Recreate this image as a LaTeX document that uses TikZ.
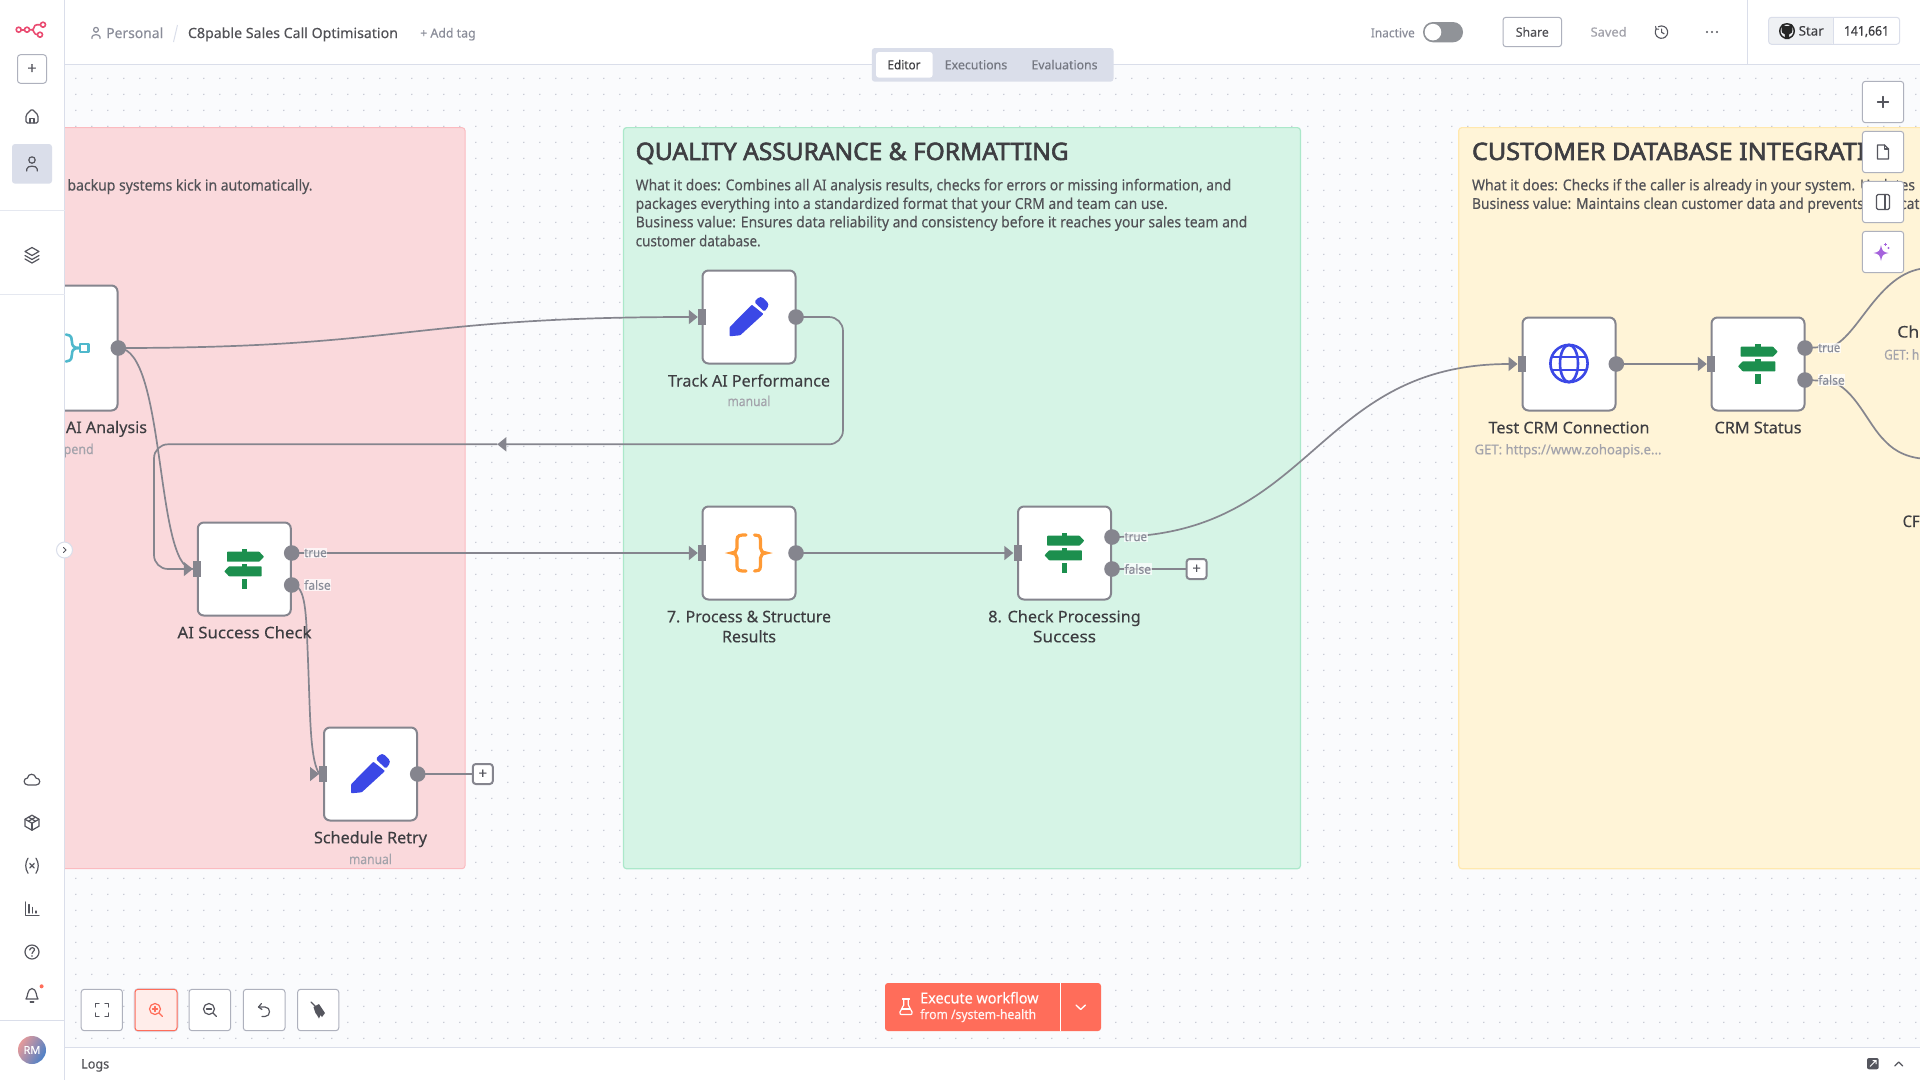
\documentclass[tikz,border=0pt]{standalone}
\usepackage{fontspec}
\setmainfont[FakeBold=0.25]{Noto Sans}
\newfontfamily\titlefont[FakeBold=2.4]{Noto Sans}
\newfontfamily\medfont[FakeBold=0.8]{Noto Sans}
\usetikzlibrary{arrows.meta,shapes.geometric,patterns}
\pgfdeclarepatternformonly{dotgrid}{\pgfqpoint{0pt}{0pt}}{\pgfqpoint{15.84pt}{15.84pt}}{\pgfqpoint{15.84pt}{15.84pt}}{\pgfpathcircle{\pgfqpoint{12.94pt}{10.78pt}}{0.8pt}\pgfusepath{fill}}
\definecolor{canvas}{HTML}{FAFBFD}
\definecolor{dotc}{HTML}{C6C9D4}
\definecolor{linec}{HTML}{DADEEA}
\definecolor{redfill}{HTML}{FAD9DC}
\definecolor{redline}{HTML}{FBBBC0}
\definecolor{greenfill}{HTML}{D6F4E6}
\definecolor{greenline}{HTML}{ABE8CA}
\definecolor{yellowfill}{HTML}{FFF4D7}
\definecolor{yellowline}{HTML}{FFE8AE}
\definecolor{wire}{HTML}{85858E}
\definecolor{titlec}{HTML}{3E3E42}
\definecolor{bodyc}{HTML}{525257}
\definecolor{subc}{HTML}{A3A3AB}
\definecolor{graytxt}{HTML}{8A8D99}
\definecolor{iconc}{HTML}{55565E}
\definecolor{btnline}{HTML}{AEB1BD}
\definecolor{pencil}{HTML}{3B48E6}
\definecolor{signc}{HTML}{1C8F4E}
\definecolor{bracec}{HTML}{FF9A35}
\definecolor{tealc}{HTML}{4FB8CC}
\definecolor{logoc}{HTML}{EA4B71}
\definecolor{orangebtn}{HTML}{FF6D5A}
\definecolor{purplec}{HTML}{A563DC}
\definecolor{avleft}{HTML}{E59A9A}
\definecolor{avright}{HTML}{4A80C8}
\definecolor{togglec}{HTML}{909398}
\definecolor{starbg}{HTML}{EFF1F4}
\definecolor{zoomfill}{HTML}{FFEDEA}
\newcommand\fw[2]{\resizebox{#1pt}{\height}{#2}}
\pgfdeclarelayer{panels}
\pgfdeclarelayer{wires}
\pgfsetlayers{panels,wires,main}
\tikzset{
  fs/.style={font=\fontsize{#1}{#1}\selectfont},
  txt/.style={inner sep=0pt,anchor=base,text=bodyc,fs=#1},
  txtw/.style={inner sep=0pt,anchor=base west,text=bodyc,fs=#1},
  nlabel/.style={txt=16,text=titlec},
  stitle/.style={inner sep=0pt,anchor=base west,text=titlec,font=\fontsize{24}{24}\selectfont\titlefont},
  box/.style={draw=wire,line width=2pt,fill=white,rounded corners=6pt,minimum width=93pt,minimum height=93pt,inner sep=0pt},
  outdot/.style={circle,fill=wire,minimum size=15.6pt,inner sep=0pt},
  indot/.style={rectangle,fill=wire,minimum width=8pt,minimum height=16pt,inner sep=0pt},
  wireline/.style={draw=wire,line width=1.7pt},
  arr/.style={-{Triangle[length=9pt,width=14pt]}},
  lab/.style={inner xsep=0.6pt,inner ysep=0.8pt,anchor=west,fill=white,fill opacity=.72,text opacity=1,text=graytxt,fs=12.5},
  plusbox/.style={draw=wire,line width=2pt,fill=white,rounded corners=3pt,minimum size=20pt,inner sep=0pt,text=iconc,fs=15},
  ibtn/.style={draw=btnline,line width=1pt,fill=white,rounded corners=3pt},
  ico/.style={draw=iconc,line width=1.2pt,line cap=round,line join=round},
}
\newcommand\ipencil[2]{\begin{scope}[shift={(#1,#2)}]
\fill[pencil,rounded corners=.8pt] (-19.5,10.3)--(2.8,-12.3)--(14.5,-3)--(-8.8,18.3)--(-19.5,19.3)--cycle;
\fill[pencil,rounded corners=1.5pt] (5.2,-15)--(10.2,-20)--(13,-20)--(19.2,-14)--(19.5,-11)--(15.5,-5.3)--cycle;
\end{scope}}
\newcommand\isign[2]{\begin{scope}[shift={(#1,#2)}]
\fill[signc,rounded corners=.6pt] (-17.3,-17.3)--(15,-17.3)--(19.7,-12.3)--(15,-7.3)--(-17.3,-7.3)--cycle;
\fill[signc,rounded corners=.6pt] (-20,2.3)--(-15.3,-2.7)--(17.3,-2.7)--(17.3,7.3)--(-15.3,7.3)--cycle;
\fill[signc] (-2.7,-20) rectangle (2.7,-17);
\fill[signc] (-2.7,-5) rectangle (2.7,-2.5);
\fill[signc] (-2.7,10) rectangle (2.7,20);
\end{scope}}
\begin{document}
\begin{tikzpicture}[x=1pt,y=-1pt]
\useasboundingbox (0,0) rectangle (1920,1080);
\clip (0,0) rectangle (1920,1080);
\begin{pgfonlayer}{panels}
\fill[canvas] (0,0) rectangle (1920,1080);
\fill[pattern=dotgrid,pattern color=dotc] (60,64) rectangle (1920,1047);
\draw[fill=redfill,draw=redline,line width=1pt,rounded corners=3pt] (40,127.6) rectangle (465,868.7);
\draw[fill=greenfill,draw=greenline,line width=1.2pt,rounded corners=3pt] (623.5,127.6) rectangle (1300.4,868.7);
\draw[fill=yellowfill,draw=yellowline,line width=1.2pt,rounded corners=3pt] (1458.8,127.6) rectangle (1960,868.7);
\node[txtw=15] (redbody) at (67.3,190.5) {\fw{245}{backup systems kick in automatically.}};
\node[stitle] (greentitle) at (635.5,160) {\fw{433}{QUALITY ASSURANCE \& FORMATTING}};
\node[txtw=15] (g1) at (635.5,190.3) {\fw{595.5}{What it does: Combines all AI analysis results, checks for errors or missing information, and}};
\node[txtw=15] (g2) at (635.5,208.9) {\fw{532}{packages everything into a standardized format that your CRM and team can use.}};
\node[txtw=15] (g3) at (635.5,227.3) {\fw{611.5}{Business value: Ensures data reliability and consistency before it reaches your sales team and}};
\node[txtw=15] (g4) at (635.5,246.3) {\fw{125}{customer database.}};
\node[stitle] (yellowtitle) at (1471.8,160) {\fw{413}{CUSTOMER DATABASE INTEGRATIO}};
\node[txtw=15] (y1) at (1471.8,190.3) {\fw{443}{What it does: Checks if the caller is already in your system. Updates}};
\node[txtw=15] (y2) at (1471.8,208.9) {\fw{447.5}{Business value: Maintains clean customer data and prevents duplicat}};
\end{pgfonlayer}

% nodes
\node[box,minimum width=125pt,minimum height=125pt] (merge) at (55,348) {};
\node[outdot] (mergeout) at (118.3,348) {};
\node[box] (track) at (749,317) {};
\node[indot] (trackin) at (702,317) {};
\node[outdot] (trackout) at (796,317) {};
\node[box] (success) at (244.3,569) {};
\node[indot] (successin) at (197,569) {};
\node[outdot] (succtrue) at (291.7,553) {};
\node[outdot] (succfalse) at (291.7,585) {};
\node[box] (retry) at (370.5,774) {};
\node[indot] (retryin) at (323.2,774) {};
\node[outdot] (retryout) at (417.7,774) {};
\node[plusbox] (retryplus) at (482.8,774) {+};
\node[box] (process) at (749,553) {};
\node[indot] (processin) at (702,553) {};
\node[outdot] (processout) at (796,553) {};
\node[box] (check) at (1064.5,553) {};
\node[indot] (checkin) at (1017.5,553) {};
\node[outdot] (checktrue) at (1112,537) {};
\node[outdot] (checkfalse) at (1112,569) {};
\node[plusbox] (checkplus) at (1196.6,569) {+};
\node[box] (test) at (1569,364) {};
\node[indot] (testin) at (1521.7,364) {};
\node[outdot] (testout) at (1616.3,364) {};
\node[box] (crm) at (1758,364) {};
\node[indot] (crmin) at (1711,364) {};
\node[outdot] (crmtrue) at (1805,348) {};
\node[outdot] (crmfalse) at (1805,380) {};
\coordinate (looparrow) at (497.3,444.3);
\coordinate (crmtrueend) at (1930,268);
\coordinate (crmfalseend) at (1930,459);

\begin{pgfonlayer}{wires}
\draw[wireline,arr] (mergeout.center) .. controls (406,348) and (406,317) .. (trackin.west);
\draw[wireline] (mergeout.center) .. controls (166,348) and (155,569) .. (successin.west);
\draw[wireline,arr,rounded corners=14pt] (trackout.center) -- (843,317) -- (843,444.3) -- (looparrow);
\draw[wireline,arr,rounded corners=14pt] (looparrow) -- (154,444.3) -- (154,569) -- (successin.west);
\draw[wireline,arr] (succtrue.center) -- (processin.west);
\draw[wireline,arr] (processout.center) -- (checkin.west);
\draw[wireline] (succfalse.center) .. controls (306,585) and (306,612) .. (308,660) .. controls (310,710) and (310,750) .. (316.5,768) -- (retryin.west);
\draw[wireline,arr] ([xshift=-8pt]retryin.west) -- (retryin.west);
\draw[wireline] (retryout.center) -- (retryplus.west);
\draw[wireline,arr] (checktrue.center) .. controls (1314,537) and (1314,364) .. (testin.west);
\draw[wireline] (checkfalse.center) -- (checkplus.west);
\draw[wireline,arr] (testout.center) -- (crmin.west);
\draw[wireline] (crmtrue.center) -- (1832,346.5) .. controls (1860,335) and (1880,268) .. (crmtrueend);
\draw[wireline] (crmfalse.center) -- (1830,381) .. controls (1855,388) and (1868,425) .. (1885,441) .. controls (1895,452) and (1910,459) .. (crmfalseend);
\end{pgfonlayer}

% edge labels
\node[lab] (ltrue1) at (303.4,553) {\fw{22.5}{true}};
\node[lab] (lfalse1) at (303.4,585) {\fw{26.5}{false}};
\node[lab] (ltrue2) at (1123.7,537) {\fw{22.5}{true}};
\node[lab] (lfalse2) at (1123.7,569) {\fw{26.5}{false}};
\node[lab] (ltrue3) at (1817.4,348) {\fw{22}{true}};
\node[lab] (lfalse3) at (1817.4,380) {\fw{26.5}{false}};

% node labels
\node[nlabel] (tmerge) at (106.5,433) {\fw{81}{AI Analysis}};
\node[txtw=13.5,text=subc] (smerge) at (63.5,454) {\fw{30}{pend}};
\node[nlabel] (ttrack) at (749,386.5) {\fw{162}{Track AI Performance}};
\node[txt=13.5,text=subc] (strack) at (749,406) {\fw{43}{manual}};
\node[nlabel] (tsuccess) at (244.5,638.3) {\fw{134}{AI Success Check}};
\node[nlabel] (tretry) at (370.5,843.3) {\fw{113}{Schedule Retry}};
\node[txt=13.5,text=subc] (sretry) at (370.5,864) {\fw{43}{manual}};
\node[nlabel] (tproc1) at (749,622.3) {\fw{164}{7. Process \& Structure}};
\node[nlabel] (tproc2) at (749,642.3) {\fw{54}{Results}};
\node[nlabel] (tcheck1) at (1064.5,622.3) {\fw{152.5}{8. Check Processing}};
\node[nlabel] (tcheck2) at (1064.5,642.3) {\fw{63}{Success}};
\node[nlabel] (ttest) at (1569,433.3) {\fw{161}{Test CRM Connection}};
\node[txt=13.5,text=subc] (stest) at (1568,454.3) {\fw{187}{GET: https://www.zohoapis.e...}};
\node[nlabel] (tcrm) at (1758,433.3) {\fw{87}{CRM Status}};
\node[txtw=16,text=titlec] (tch) at (1897,337.5) {\fw{22}{Ch}};
\node[txtw=13.5,text=subc] (sget) at (1884,359.5) {\fw{35}{GET: h}};
\node[txtw=16,text=titlec] (tcp) at (1902.5,527) {\fw{17}{CF}};

% icons in nodes
\ipencil{749}{317}
\ipencil{370.5}{774}
\isign{244.3}{569}
\isign{1064.5}{553}
\isign{1758}{364}
\begin{scope}[shift={(749,553)},bracec,line width=3.2pt,line cap=round]
\draw (-3,-18) .. controls (-9,-18) and (-12,-18) .. (-12,-13) -- (-12,-5) .. controls (-12,-2) and (-14,-.5) .. (-17.5,0) .. controls (-14,.5) and (-12,2) .. (-12,5) -- (-12,13) .. controls (-12,18) and (-9,18) .. (-3,18);
\draw (5.5,-18) .. controls (8,-18) and (11.5,-18) .. (11.5,-13) -- (11.5,-5) .. controls (11.5,-2) and (13.5,-.5) .. (17,0) .. controls (13.5,.5) and (11.5,2) .. (11.5,5) -- (11.5,13) .. controls (11.5,18) and (8,18) .. (5.5,18);
\end{scope}
\begin{scope}[shift={(1569,363.5)},pencil,line width=2.6pt]
\draw (0,0) circle (18.6);
\draw (0,0) ellipse (9 and 18.6);
\draw (-17,-6.5) -- (17,-6.5);
\draw (-17,6.5) -- (17,6.5);
\end{scope}
\begin{scope}[tealc,line width=2.6pt,line cap=round,line join=round]
\draw (66,334.5) .. controls (72,335) and (72,339) .. (72,342) .. controls (72,345) and (73,348) .. (79,348);
\draw (66,361.5) .. controls (72,361) and (72,357) .. (72,354) .. controls (72,351) and (73,348) .. (79,348);
\draw (80,344) rectangle (88.5,352);
\end{scope}

% chrome: sidebar, header, logs
\fill[white] (0,0) rectangle (64.5,1080);
\fill[white] (64.5,0) rectangle (1920,64.5);
\fill[white] (64.5,1047) rectangle (1920,1080);
\draw[linec,line width=1pt] (64.5,0) -- (64.5,1080);
\draw[linec,line width=1pt] (64.5,64.5) -- (1920,64.5);
\draw[linec,line width=1pt] (64.5,1047) -- (1920,1047);
\draw[linec,line width=1pt] (1747,0) -- (1747,64.5);
\draw[linec!70,line width=1pt] (0,210.7) -- (64.5,210.7);
\draw[linec!70,line width=1pt] (0,294.3) -- (64.5,294.3);
\draw[linec,line width=1pt] (0,1020.3) -- (64.5,1020.3);
% logo
\begin{scope}[logoc,line width=1.6pt]
\draw (18.7,29.7) circle (2.5);
\draw (27,29.7) circle (2.5);
\draw (43,24.7) circle (2.5);
\draw (40,34.7) circle (2.5);
\draw (21.2,29.7) -- (24.5,29.7);
\draw (29.5,29.7) -- (32,29.7) .. controls (35,29.7) and (33,24.7) .. (37,24.7) -- (40.5,24.7);
\draw (32,29.7) .. controls (34,29.7) and (33.5,34.7) .. (37.5,34.7);
\end{scope}
\node[draw=btnline,line width=1pt,rounded corners=3pt,minimum width=29pt,minimum height=28.6pt,inner sep=0pt,text=iconc,fs=16,fill=white] (newbtn) at (32,69) {+};
\fill[linec,rounded corners=3pt] (12,144) rectangle (52,183.7);
% home
\begin{scope}[shift={(32,116)},ico]
\draw[rounded corners=1.5pt] (-6,-1)--(0,-7)--(6,-1)--(6,7)--(-6,7)--cycle;
\draw (-2,7)--(-2,2.5)--(2,2.5)--(2,7);
\end{scope}
% user
\begin{scope}[shift={(32,164)},ico]
\draw (0,-4) circle (3.2);
\draw (-5.2,7)--(-5.2,5) .. controls (-5.2,1.2) and (5.2,1.2) .. (5.2,5)--(5.2,7);
\end{scope}
% layers
\begin{scope}[shift={(32,255)},ico]
\draw (-7,-3.5)--(0,-7.5)--(7,-3.5)--(0,.5)--cycle;
\draw (-7,.5)--(0,4.5)--(7,.5);
\draw (-7,4)--(0,8)--(7,4);
\end{scope}
% cloud
\begin{scope}[shift={(32,780)},ico]
\draw (-4,5) -- (4,5) .. controls (9,5) and (9,-2) .. (4,-2) .. controls (3,-7) and (-4,-7) .. (-4.5,-2) .. controls (-9,-2) and (-9,5) .. (-4,5);
\end{scope}
% package
\begin{scope}[shift={(32,822.7)},ico]
\draw (0,-7.5)--(7,-3.5)--(7,3.5)--(0,7.5)--(-7,3.5)--(-7,-3.5)--cycle;
\draw (-7,-3.5)--(0,.5)--(7,-3.5);
\draw (0,.5)--(0,7.5);
\draw (-3.5,-5.5)--(3.5,-1.5);
\draw (3.5,-5.5)--(-3.5,-1.5);
\end{scope}
% (x)
\begin{scope}[shift={(32,865.7)},ico]
\draw (-4,-7.5) .. controls (-7,-3) and (-7,3) .. (-4,7.5);
\draw (4,-7.5) .. controls (7,-3) and (7,3) .. (4,7.5);
\draw (-2.3,-2.3)--(2.3,2.3);
\draw (2.3,-2.3)--(-2.3,2.3);
\end{scope}
% chart
\begin{scope}[shift={(32,909)},ico]
\draw (-6.5,-7)--(-6.5,6.5)--(7,6.5);
\draw (-3,4)--(-3,-4.5);
\draw (.5,4)--(.5,-1.5);
\draw (4,4)--(4,2);
\end{scope}
% help
\begin{scope}[shift={(32,952)},ico]
\draw (0,0) circle (7);
\draw (-2.3,-2) .. controls (-2,-5.2) and (3,-5) .. (2.5,-2) .. controls (2.3,-.5) and (0,-.5) .. (0,1.5);
\fill[iconc] (0,4) circle (.8);
\end{scope}
% bell
\begin{scope}[shift={(32,995)},ico]
\draw (-6,4) .. controls (-4,2) and (-5,-6) .. (0,-6.5) .. controls (5,-6) and (4,2) .. (6,4) -- cycle;
\draw (-1.8,7) -- (1.8,7);
\fill[orangebtn,draw=none] (9.6,-8.7) circle (2);
\end{scope}
\shade[left color=avleft,right color=avright,shading angle=60] (32,1050) circle (14);
\node[inner sep=0pt,text=white,fs=11] (avatar) at (32,1050) {RM};

% header
\begin{scope}[shift={(96,33)},scale=.8,ico,draw=graytxt]
\draw (0,-4) circle (3);
\draw (-5,7)--(-5,5) .. controls (-5,1.2) and (5,1.2) .. (5,5)--(5,7);
\end{scope}
\node[txtw=14,text=graytxt] (hpers) at (106,38) {\fw{57}{Personal}};
\draw[linec,line width=1pt] (173.5,42) -- (177.5,25);
\node[txtw=14,text=bodyc] (hname) at (187.8,38) {\fw{210}{C8pable Sales Call Optimisation}};
\node[txtw=12.5,text=graytxt] (htag) at (420,37.5) {\fw{55.5}{+ Add tag}};
\node[txtw=12.5,text=graytxt] (hinact) at (1370.6,37.3) {\fw{44}{Inactive}};
\fill[togglec,rounded corners=10pt] (1423,22) rectangle (1463,42.3);
\fill[white] (1433,32.1) circle (8.3);
\node[draw=btnline,line width=1pt,rounded corners=3pt,minimum width=58.6pt,minimum height=29.4pt,inner sep=0pt,text=bodyc,fs=12.5,fill=white] (share) at (1532.3,32) {\fw{33}{Share}};
\node[txt=12.5,text=subc] (saved) at (1608.6,36.5) {\fw{36}{Saved}};
\begin{scope}[shift={(1661.6,32)},ico,line width=1.1pt]
\draw (-5.5,-3) arc (210:-120:6.2);
\draw (-6,-5.5)--(-5.5,-3)--(-3,-2.8);
\draw (0,-3)--(0,.3)--(2.5,1.8);
\end{scope}
\fill[iconc] (1707,32) circle (1.1) (1712,32) circle (1.1) (1717,32) circle (1.1);
% github
\fill[starbg,rounded corners=3pt] (1768.6,17.3) rectangle (1833.5,44.3);
\draw[linec,line width=1pt,rounded corners=3pt] (1768.6,17.3) rectangle (1899.6,44.3);
\draw[linec,line width=1pt] (1833.5,17.3) -- (1833.5,44.3);
\begin{scope}[shift={(1787,31)}]
\fill[black!85] (0,0) circle (8);
\fill[starbg] (0,0) circle (6.4);
\fill[black!85] (-5,-7)--(-1.5,-5)--(1.5,-5)--(5,-7)--(5.5,-2)--(5,1.5)--(2,3.5)--(2.5,8)--(-2.5,8)--(-2,3.5)--(-5,1.5)--(-5.5,-2)--cycle;
\end{scope}
\node[txtw=13,text=titlec] (hstar) at (1798.5,35.5) {\fw{25}{Star}};
\node[txt=13,text=titlec,font=\fontsize{13}{13}\selectfont\medfont] (hcount) at (1866.5,35.5) {\fw{45}{141,661}};

% tabs
\fill[linec,rounded corners=3pt] (871.8,48) rectangle (1113.5,81.7);
\fill[white,rounded corners=3pt] (876,52) rectangle (932.7,77.7);
\node[txt=12.5,text=titlec] (teditor) at (904,69.3) {\fw{33}{Editor}};
\node[txt=12.5,text=graytxt!85!black] (texec) at (976,69.3) {\fw{62.5}{Executions}};
\node[txt=12.5,text=graytxt!85!black] (teval) at (1064.5,69.3) {\fw{66}{Evaluations}};

% right buttons
\draw[ibtn] (1862.4,81.3) rectangle (1903.7,122.7);
\draw[ibtn] (1862.4,131.3) rectangle (1903.7,172.7);
\draw[ibtn] (1862.4,181.3) rectangle (1903.7,222.7);
\draw[ibtn] (1862.4,231.3) rectangle (1903.7,272.7);
\draw[ico] (1877.5,102)--(1888.5,102) (1883,96.5)--(1883,107.5);
\begin{scope}[shift={(1883,152)},ico]
\draw (-5.5,-7)--(1.5,-7)--(5.5,-3)--(5.5,7)--(-5.5,7)--cycle;
\draw (1.5,-7)--(1.5,-3)--(5.5,-3);
\end{scope}
\begin{scope}[shift={(1883,202)},ico]
\draw[rounded corners=1.5pt] (-6.5,-7.5) rectangle (6.5,7.5);
\draw (2,-7.5)--(2,7.5);
\end{scope}
\begin{scope}[shift={(1881,253)}]
\fill[purplec] (0,-8) .. controls (1,-2) and (2,-1) .. (7.5,0) .. controls (2,1) and (1,2) .. (0,8) .. controls (-1,2) and (-2,1) .. (-7.5,0) .. controls (-2,-1) and (-1,-2) .. (0,-8) -- cycle;
\draw[purplec,line width=.9pt] (2.5,-9)--(5.5,-9) (4,-10.5)--(4,-7.5);
\fill[purplec] (7.5,-5) circle (1.1);
\end{scope}

% toolbar
\draw[ibtn] (81.2,989.3) rectangle (122.4,1030.7);
\draw[linec,line width=3pt,rounded corners=4pt] (135,989.3) rectangle (177,1030.7);
\draw[draw=orangebtn,fill=zoomfill,line width=1pt,rounded corners=3pt] (135,989.3) rectangle (177,1030.7);
\draw[ibtn] (189,989.3) rectangle (230.6,1030.7);
\draw[ibtn] (243.3,989.3) rectangle (285,1030.7);
\draw[ibtn] (297.6,989.3) rectangle (338.8,1030.7);
\begin{scope}[shift={(102,1010)},ico]
\draw (-6.5,-3)--(-6.5,-6.5)--(-3,-6.5) (3,-6.5)--(6.5,-6.5)--(6.5,-3) (6.5,3)--(6.5,6.5)--(3,6.5) (-3,6.5)--(-6.5,6.5)--(-6.5,3);
\end{scope}
\begin{scope}[shift={(156,1010)},ico,draw=orangebtn]
\draw (-1,-1) circle (5.5);
\draw (3,3)--(6.5,6.5);
\draw (-3.5,-1)--(1.5,-1) (-1,-3.5)--(-1,1.5);
\end{scope}
\begin{scope}[shift={(210,1010)},ico]
\draw (-1,-1) circle (5.5);
\draw (3,3)--(6.5,6.5);
\draw (-3.5,-1)--(1.5,-1);
\end{scope}
\begin{scope}[shift={(264,1010)},ico]
\draw (-2.5,-6.5)--(-5.5,-3)--(-2,-.5);
\draw (-5.5,-3)--(1,-3) .. controls (7,-3) and (7,6.5) .. (1,6.5)--(-2,6.5);
\end{scope}
\begin{scope}[shift={(318,1010)}]
\draw[ico] (-7,-8)--(-2,-3);
\fill[iconc] (-4.5,-3)--(1,-6)--(7,3)--(4,7)--(2.5,5)--(1,8.5)--(-1,5)--(-2.5,3)--cycle;
\end{scope}

% execute
\fill[orangebtn,rounded corners=3pt] (885,983) rectangle (1101,1031);
\draw[white,line width=1.2pt] (1060.3,983) -- (1060.3,1031);
\begin{scope}[shift={(906,1007)},draw=white,line width=1.2pt,line join=round,line cap=round]
\draw (-3.5,-8)--(3.5,-8);
\draw (-2.3,-8)--(-2.3,-2)--(-6,5) .. controls (-6.5,7) and (-5.5,7.5) .. (-4.5,7.5)--(4.5,7.5) .. controls (5.5,7.5) and (6.5,7) .. (6,5)--(2.3,-2)--(2.3,-8);
\draw (-4,2)--(4,2);
\end{scope}
\node[txtw=15,text=white] (exec1) at (920,1003.4) {\fw{118.3}{Execute workflow}};
\node[txtw=13,text=white!92!orangebtn] (exec2) at (920,1019) {\fw{116}{from /system-health}};
\draw[white,line width=1.3pt,line cap=round,line join=round] (1076,1005)--(1080.7,1009.5)--(1085.4,1005);

% logs
\node[txtw=13,text=bodyc] (logs) at (81,1068.5) {\fw{28}{Logs}};
\fill[iconc,rounded corners=2pt] (1867,1058) rectangle (1878.7,1069.3);
\draw[white,line width=1pt] (1870,1066.5)--(1876,1060.5) (1872.5,1060.5)--(1876,1060.5)--(1876,1064);
\draw[ico] (1894.7,1066)--(1898.7,1062)--(1902.7,1066);

% collapse handle
\draw[fill=white,draw=linec,line width=1pt] (64.5,550) circle (8);
\draw[iconc,line width=.9pt,line cap=round] (63.5,547.5)--(66,550)--(63.5,552.5);
\end{tikzpicture}
\end{document}
